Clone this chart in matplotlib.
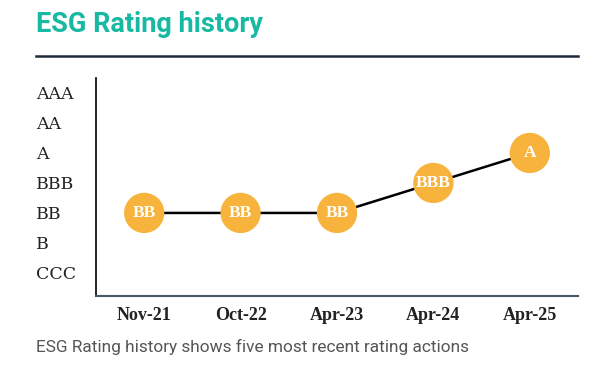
import matplotlib
matplotlib.use("Agg")
import matplotlib.pyplot as plt

rating_scale = ["CCC", "B", "BB", "BBB", "A", "AA", "AAA"]
dates = ["Nov-21", "Oct-22", "Apr-23", "Apr-24", "Apr-25"]
ratings = ["BB", "BB", "BB", "BBB", "A"]

W, H = 600, 368
fig = plt.figure(figsize=(W/100, H/100), dpi=100)

def fx(px): return px / W
def fy(py): return 1 - py / H

ax = fig.add_axes([fx(96), fy(296), fx(578 - 96), (296 - 78) / H])
x = list(range(len(dates)))
y = [rating_scale.index(r) for r in ratings]
ax.plot(x, y, color="black", lw=1.8, zorder=1)
ax.scatter(x, y, s=29**2, color="#F8B33C", edgecolors="none", zorder=2)
for xi, yi, r in zip(x, y, ratings):
    ax.text(xi, yi, r, ha="center", va="center", color="white",
            fontsize=12.5, fontweight="bold", family="Liberation Serif", zorder=3)

ax.set_xlim(-0.5, 4.5)
ax.set_ylim(-0.77, 6.5)
ax.set_xticks(x)
ax.set_xticklabels(dates, family="Liberation Serif", fontsize=13, fontweight="bold", color="#222222")
ax.set_yticks(range(len(rating_scale)))
ax.set_yticklabels(rating_scale, family="DejaVu Serif", fontsize=12.5, color="#222222", ha="left")
ax.tick_params(axis="y", length=0, pad=(96 - 36) * 0.72)
ax.tick_params(axis="x", length=0, pad=8)
for s in ["top", "right"]:
    ax.spines[s].set_visible(False)
ax.spines["left"].set_color("black")
ax.spines["left"].set_linewidth(1.2)
ax.spines["bottom"].set_color("#4a5868")
ax.spines["bottom"].set_linewidth(1.5)

fig.text(fx(36), fy(25), "ESG Rating history", color="#17B9A3", fontsize=19.5,
         fontweight="bold", family="Roboto", va="center", ha="left")
fig.add_artist(plt.Line2D([fx(36), fx(578)], [fy(56), fy(56)], color="#1c2a3a", lw=1.8))
fig.text(fx(36), fy(347), "ESG Rating history shows five most recent rating actions",
         color="#555555", fontsize=12.4, family="Roboto", va="center", ha="left")

fig.savefig("out.png", dpi=100)
